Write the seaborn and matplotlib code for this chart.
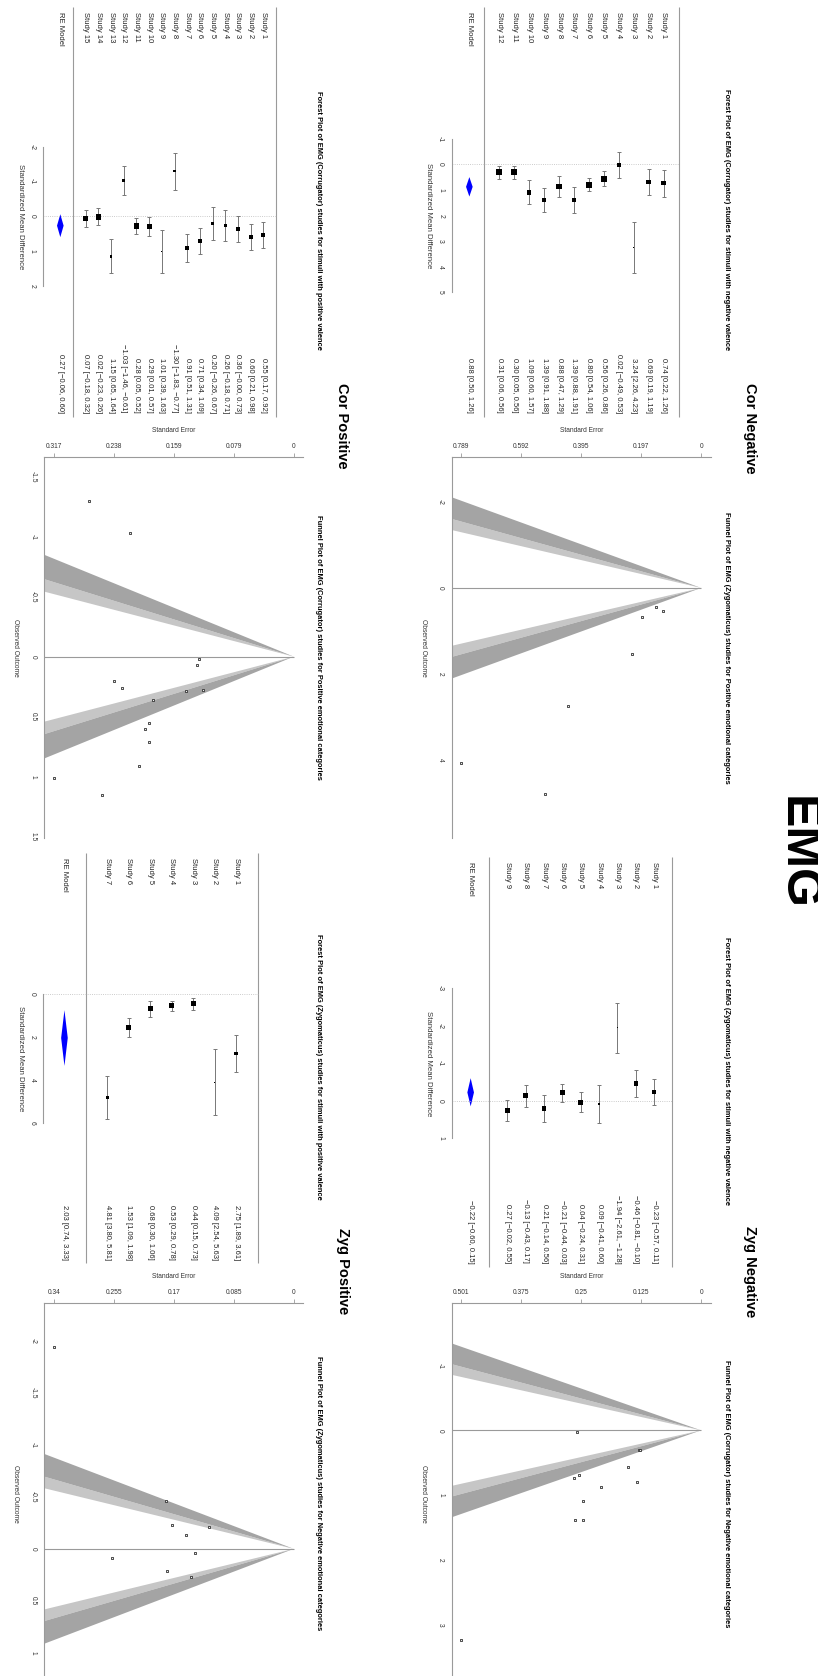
import numpy as np
import seaborn as sns
import matplotlib.pyplot as plt

# ---- Corrugator, negative valence ----
cor_neg_est = [0.74, 0.69, 3.24, 0.02, 0.56, 0.80, 1.39, 0.88, 1.39, 1.09, 0.30, 0.31]
cor_neg_lo = [0.22, 0.19, 2.26, -0.49, 0.26, 0.54, 0.88, 0.47, 0.91, 0.60, 0.05, 0.06]
cor_neg_hi = [1.26, 1.19, 4.23, 0.53, 0.86, 1.06, 1.91, 1.29, 1.88, 1.57, 0.56, 0.56]
cor_neg_se = [0.265, 0.255, 0.501, 0.260, 0.153, 0.133, 0.263, 0.209, 0.247, 0.247, 0.130, 0.128]
cor_neg_re = [0.88, 0.50, 1.26]
cor_neg_se_labels = ['0.501', '0.375', '0.25', '0.125', '0']

# ---- Corrugator, positive valence ----
cor_pos_est = [0.55, 0.60, 0.36, 0.26, 0.20, 0.71, 0.91, -1.30, 1.01, 0.29, 0.28, -1.03, 1.15, 0.02, 0.07]
cor_pos_lo = [0.17, 0.21, -0.00, -0.18, -0.26, 0.34, 0.51, -1.83, 0.39, 0.01, 0.05, -1.46, 0.65, -0.23, -0.18]
cor_pos_hi = [0.92, 0.98, 0.73, 0.71, 0.67, 1.09, 1.31, -0.77, 1.63, 0.57, 0.52, -0.61, 1.64, 0.26, 0.32]
cor_pos_se = [0.191, 0.196, 0.186, 0.227, 0.237, 0.191, 0.204, 0.270, 0.317, 0.143, 0.120, 0.217, 0.253, 0.125, 0.128]
cor_pos_re = [0.27, -0.06, 0.60]
cor_pos_se_labels = ['0.317', '0.238', '0.159', '0.079', '0']

# ---- Zygomaticus, negative valence ----
zyg_neg_est = [-0.23, -0.46, -1.94, 0.09, 0.04, -0.21, 0.21, -0.13, 0.27]
zyg_neg_lo = [-0.57, -0.81, -2.61, -0.41, -0.24, -0.44, -0.14, -0.43, -0.02]
zyg_neg_hi = [0.11, -0.10, -1.28, 0.60, 0.31, 0.03, 0.56, 0.17, 0.55]
zyg_neg_se = [0.173, 0.181, 0.340, 0.258, 0.140, 0.120, 0.179, 0.153, 0.145]
zyg_neg_re = [-0.22, -0.60, 0.15]
zyg_neg_se_labels = ['0.34', '0.255', '0.17', '0.085', '0']

# ---- Zygomaticus, positive valence ----
zyg_pos_est = [2.75, 4.09, 0.44, 0.53, 0.68, 1.53, 4.81]
zyg_pos_lo = [1.89, 2.54, 0.15, 0.29, 0.30, 1.09, 3.80]
zyg_pos_hi = [3.61, 5.63, 0.73, 0.78, 1.06, 1.98, 5.81]
zyg_pos_se = [0.439, 0.789, 0.148, 0.125, 0.194, 0.227, 0.513]
zyg_pos_re = [2.03, 0.74, 3.33]
zyg_pos_se_labels = ['0.789', '0.592', '0.395', '0.197', '0']

sns.set_style('white')
plt.rcParams['font.family'] = ['Liberation Sans', 'DejaVu Sans']

W, H = 818, 1676
fig = plt.figure(figsize=(W / 100, H / 100), dpi=100)
LINE = '#9a9a9a'
TXT = '#222222'


def add_ax(x0, x1, y0, y1):
    # rectangle in pixels, origin top-left
    ax = fig.add_axes([x0 / W, 1 - y1 / H, (x1 - x0) / W, (y1 - y0) / H])
    ax.set_facecolor('none')
    return ax


def ftext(px, py, s, **kw):
    fig.text(px / W, 1 - py / H, s, **kw)


def fmt(v):
    return f'{v:.2f}'.replace('-', '\u2212')


def re_norm(est, se):
    # random-effects (DL) weights, scaled 0..1, used for square size
    y = np.asarray(est)
    v = np.asarray(se) ** 2
    w = 1 / v
    mu = (w * y).sum() / w.sum()
    q = (w * (y - mu) ** 2).sum()
    c = w.sum() - (w ** 2).sum() / w.sum()
    tau2 = max(0.0, (q - (len(y) - 1)) / c)
    wr = 1 / (v + tau2)
    return (wr - wr.min()) / (wr.max() - wr.min())


def forest(est, lo, hi, se, re, ticks, title, L):
    ax = add_ax(L['x0'], L['x1'], L['y0'], L['y1'])
    r = lambda px: (px - L['row0']) / L['rstep']
    u = lambda py: (py - L['zero']) / L['ustep']
    est, lo, hi = map(np.asarray, (est, lo, hi))
    k = len(est)
    rows = np.arange(k, 0, -1)

    ax.vlines([k + 1, 0], u(L['span'][0]), u(L['span'][1]), color=LINE, lw=0.8)
    ax.hlines(0, r(L['axis']), k + 1, color='#bbbbbb', lw=0.6, linestyles=':')
    ax.errorbar(rows, est, yerr=[est - lo, hi - est], fmt='none', ecolor='#777777',
                elinewidth=0.7, capsize=1.4, capthick=0.7)
    side = 1.0 + (L['psz'] - 1.0) * re_norm(est, se)
    sns.scatterplot(x=rows, y=est, ax=ax, marker='s', s=(side * 0.72) ** 2, color='black',
                    linewidth=0, legend=False, zorder=3)
    h = 3.3 / L['rstep']
    ax.fill([-1, -1 + h, -1, -1 - h], [re[1], re[0], re[2], re[0]], color='#0000ff', lw=0)

    for i, row in enumerate(rows):
        ax.text(row, u(L['lab']), f'Study {i + 1}', rotation=270, ha='center', va='top',
                fontsize=5.5, color=TXT)
        ax.text(row, u(L['end']), f'{fmt(est[i])} [{fmt(lo[i])}, {fmt(hi[i])}]', rotation=270,
                ha='center', va='bottom', fontsize=5.5, color=TXT)
    ax.text(-1, u(L['lab']), 'RE Model', rotation=270, ha='center', va='top', fontsize=5.5, color=TXT)
    ax.text(-1, u(L['end']), f'{fmt(re[0])} [{fmt(re[1])}, {fmt(re[2])}]', rotation=270,
            ha='center', va='bottom', fontsize=5.5, color=TXT)

    for s in ['top', 'right', 'bottom']:
        ax.spines[s].set_visible(False)
    ax.spines['left'].set_position(('data', r(L['axis'])))
    ax.spines['left'].set_bounds(ticks[0], ticks[-1])
    ax.spines['left'].set_color(LINE)
    ax.spines['left'].set_linewidth(0.8)
    ax.set_xticks([])
    ax.set_yticks(ticks, [str(t) for t in ticks], rotation=270, va='center')
    ax.tick_params(axis='y', length=2.9, width=0.6, color=LINE, labelsize=4.9,
                   labelcolor='#333333', pad=2.5)
    ax.set_xlabel('')
    ax.set_ylabel('')
    ax.text(r(L['axis'] - 23), np.mean([ticks[0], ticks[-1]]), 'Standardized Mean Difference',
            rotation=270, ha='center', va='center', fontsize=5.6, color='#333333')
    ax.text(r(L['tx']), u(L['ty']), title, rotation=270, ha='center', va='center',
            fontsize=5.4, fontweight='bold', color='black')
    ax.set_xlim(r(L['x0']), r(L['x1']))
    ax.set_ylim(u(L['y1']), u(L['y0']))


def funnel(yi, se, se_labels, oticks, title, L):
    ax = add_ax(L['x0'], L['x1'], L['y0'], L['y1'])
    yi = np.asarray(yi)
    se = np.asarray(se)
    smax = se.max()
    z90, z95, z99 = 1.6449, 1.96, 2.5758
    lo = min(-z99 * smax, yi.min())
    hi = max(z99 * smax, yi.max())
    pad = 0.1 * (hi - lo)
    lo, hi = lo - pad, hi + pad
    pad = 0.04 * (hi - lo)
    lo, hi = lo - pad, hi + pad

    S = smax * 1.5
    for sgn in (-1, 1):
        ax.fill([0, S, S], [0, sgn * z90 * S, sgn * z95 * S], color='#c6c6c6', lw=0)
        ax.fill([0, S, S], [0, sgn * z95 * S, sgn * z99 * S], color='#a4a4a4', lw=0)
    ax.hlines(0, 0, S, color=LINE, lw=0.8)
    sns.scatterplot(x=se, y=yi, ax=ax, marker='s', s=3, color='#eeeeee', edgecolor='#333333',
                    linewidth=0.6, legend=False, zorder=3)

    for s in ['right', 'bottom']:
        ax.spines[s].set_visible(False)
    for s in ['top', 'left']:
        ax.spines[s].set_color(LINE)
        ax.spines[s].set_linewidth(0.8)
    ax.xaxis.tick_top()
    ax.set_xticks(np.linspace(smax, 0, 5), se_labels)
    ax.set_yticks(oticks, [f'{t:g}' for t in oticks], rotation=270, va='center')
    ax.tick_params(length=2.9, width=0.6, color=LINE, labelsize=4.8, labelcolor='#333333', pad=2.5)
    ax.set_xlabel('')
    ax.set_ylabel('')
    ax.set_xlim(smax * 1.04, -smax * 0.04)
    ax.set_ylim(hi, lo)

    ftext((L['x0'] + L['x1']) / 2, L['y0'] - 26.6, 'Standard Error', ha='center', va='center',
          fontsize=4.8, color='#333333')
    ftext(L['x0'] - 28.5, (L['y0'] + L['y1']) / 2, 'Observed Outcome', rotation=270,
          ha='center', va='center', fontsize=4.8, color='#333333')
    ftext(L['tx'], (L['y0'] + L['y1']) / 2, title, rotation=270, ha='center', va='center',
          fontsize=5.4, fontweight='bold', color='black')


# ---- forest panels ----
forest(cor_neg_est, cor_neg_lo, cor_neg_hi, cor_neg_se, cor_neg_re, [-1, 0, 1, 2, 3, 4, 5],
       'Forest Plot of EMG (Corrugator) studies for stimuli with negative valence',
       dict(x0=415, x1=740, y0=0, y1=420, row0=484.3, rstep=14.94, zero=164.3, ustep=25.6,
            axis=451.7, span=(7, 417), lab=12, end=413, tx=726.7, ty=220, psz=6.5))
forest(cor_pos_est, cor_pos_lo, cor_pos_hi, cor_pos_se, cor_pos_re, [-2, -1, 0, 1, 2],
       'Forest Plot of EMG (Corrugator) studies for stimuli with positive valence',
       dict(x0=5, x1=330, y0=0, y1=420, row0=73.0, rstep=12.69, zero=216.3, ustep=34.75,
            axis=43.3, span=(7, 417), lab=11.7, end=413, tx=318.3, ty=220.7, psz=5.3))
forest(zyg_neg_est, zyg_neg_lo, zyg_neg_hi, zyg_neg_se, zyg_neg_re, [-3, -2, -1, 0, 1],
       'Forest Plot of EMG (Zygomaticus) studies for stimuli with negative valence',
       dict(x0=415, x1=740, y0=846, y1=1270, row0=489.0, rstep=18.34, zero=1100.7, ustep=37.5,
            axis=451.7, span=(856.7, 1266.7), lab=861.7, end=1263.3, tx=726.7, ty=1070.8, psz=5.3))
forest(zyg_pos_est, zyg_pos_lo, zyg_pos_hi, zyg_pos_se, zyg_pos_re, [0, 2, 4, 6],
       'Forest Plot of EMG (Zygomaticus) studies for stimuli with positive valence',
       dict(x0=5, x1=330, y0=846, y1=1270, row0=85.9, rstep=21.45, zero=994.3, ustep=21.5,
            axis=43.3, span=(853.3, 1263.3), lab=858.3, end=1260, tx=318.3, ty=1066.7, psz=5.3))

# ---- funnel panels (as placed in the original figure) ----
funnel(zyg_pos_est, zyg_pos_se, zyg_pos_se_labels, [-2, 0, 2, 4],
       'Funnel Plot of EMG (Zygomaticus) studies for Positive emotional categories',
       dict(x0=451.7, x1=710.7, y0=457.3, y1=837.7, tx=726.7))
funnel(cor_pos_est, cor_pos_se, cor_pos_se_labels, [-1.5, -1, -0.5, 0, 0.5, 1, 1.5],
       'Funnel Plot of EMG (Corrugator) studies for Positive emotional categories',
       dict(x0=44.3, x1=303.3, y0=457.3, y1=838.0, tx=318.3))
funnel(cor_neg_est, cor_neg_se, cor_neg_se_labels, [-1, 0, 1, 2, 3],
       'Funnel Plot of EMG (Corrugator) studies for Negative emotional categories',
       dict(x0=451.7, x1=710.7, y0=1303.3, y1=1683.7, tx=726.7))
funnel(zyg_neg_est, zyg_neg_se, zyg_neg_se_labels, [-2, -1.5, -1, -0.5, 0, 0.5, 1],
       'Funnel Plot of EMG (Zygomaticus) studies for Negative emotional categories',
       dict(x0=44.3, x1=303.3, y0=1303.3, y1=1683.5, tx=318.3))

# ---- headers ----
hdr = dict(rotation=270, ha='center', va='center', fontsize=10.5, fontweight='bold', color='black')
ftext(750, 428, 'Cor Negative', **hdr)
ftext(342, 425.5, 'Cor Positive', **hdr)
ftext(750, 1272, 'Zyg Negative', **hdr)
ftext(343, 1271.5, 'Zyg Positive', **hdr)
ftext(797, 853, 'EMG', rotation=270, ha='center', va='center', fontsize=36,
      fontweight='bold', color='black')

fig.savefig('out.png', dpi=100)
